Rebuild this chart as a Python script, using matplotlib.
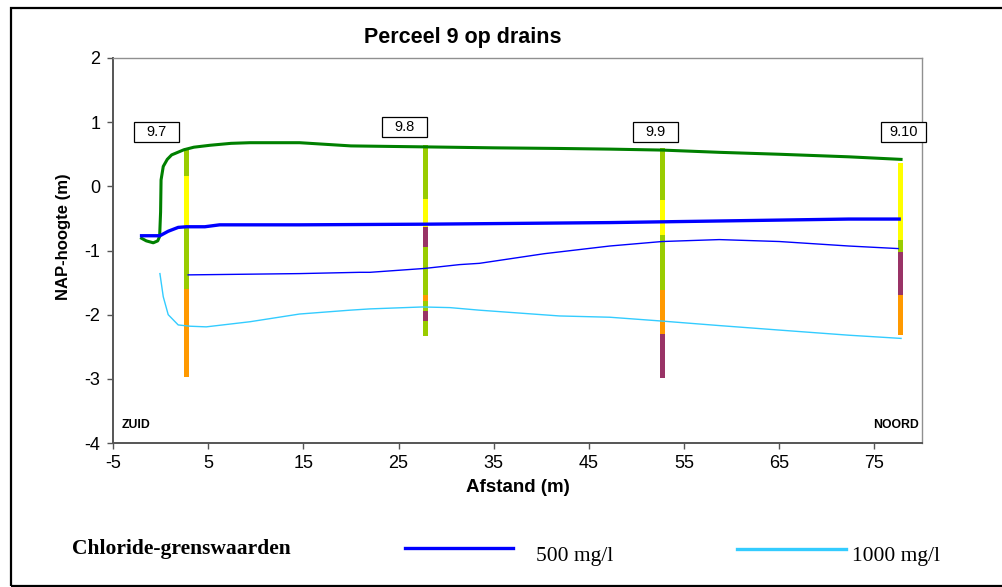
import matplotlib.pyplot as plt
from matplotlib.patches import Rectangle
from matplotlib.lines import Line2D

plt.rcParams['axes.unicode_minus'] = False

# lines (Afstand in m, NAP-hoogte in m)
grond_x = [-2.0, -1.5, -0.77, -0.3, -0.1, 0.0, 0.05, 0.28, 0.7, 1.16, 2.45, 3.5, 5.2, 7.4, 9.4,
           14.6, 20.0, 27.7, 35.0, 42.0, 47.2, 52.7, 58.7, 65.0, 72.3, 77.8]
grond_y = [-0.81, -0.85, -0.88, -0.85, -0.78, -0.40, 0.10, 0.31, 0.42, 0.49, 0.57, 0.61, 0.64, 0.67, 0.68,
           0.68, 0.63, 0.615, 0.60, 0.59, 0.58, 0.565, 0.53, 0.50, 0.46, 0.42]

zoet_x = [-2.0, -0.07, 0.8, 1.85, 2.7, 4.65, 6.2, 14.6, 27.7, 47.2, 58.7, 72.3, 77.6]
zoet_y = [-0.77, -0.77, -0.70, -0.64, -0.63, -0.63, -0.60, -0.60, -0.59, -0.565, -0.54, -0.51, -0.51]

cl500_x = [2.9, 14.6, 20.9, 22.0, 27.7, 31.4, 33.5, 40.3, 47.2, 52.7, 58.7, 65.0, 72.3, 77.5]
cl500_y = [-1.38, -1.36, -1.34, -1.34, -1.28, -1.22, -1.20, -1.05, -0.93, -0.86, -0.83, -0.86, -0.93, -0.97]

cl1000_x = [-0.07, 0.28, 0.8, 1.85, 3.1, 4.8, 9.4, 14.6, 19.9, 22.0, 27.5, 30.4, 33.5, 41.9, 47.2,
            52.7, 58.7, 65.0, 72.3, 77.8]
cl1000_y = [-1.36, -1.72, -2.00, -2.16, -2.18, -2.19, -2.11, -1.99, -1.93, -1.91, -1.88, -1.89, -1.93, -2.02, -2.04,
            -2.10, -2.17, -2.24, -2.32, -2.37]

# borings
boring_names = ['9.7', '9.8', '9.9', '9.10']
boring_x = [2.7, 27.8, 52.75, 77.75]
label_x = [-0.44, 25.66, 51.98, 78.03]
label_y = [0.84, 0.92, 0.84, 0.84]
# layer boundaries (top -> bottom) and layer type per interval
boring_depths = [
    [0.59, 0.16, -0.63, -1.60, -2.97],
    [0.64, -0.20, -0.64, -0.94, -1.70, -1.79, -1.95, -2.10, -2.33],
    [0.59, -0.21, -0.76, -1.61, -2.30, -2.99],
    [0.36, -0.83, -1.03, -1.69, -2.31],
]
boring_layers = [
    ['g', 'y', 'g', 'o'],
    ['g', 'y', 'p', 'g', 'o', 'g', 'p', 'g'],
    ['g', 'y', 'g', 'o', 'p'],
    ['y', 'g', 'p', 'o'],
]
layer_colors = {'g': '#99CC00', 'y': '#FFFF00', 'o': '#FF9900', 'p': '#993366'}

fig = plt.figure(figsize=(10.03, 5.87), dpi=100)
ax = fig.add_axes([113 / 1003, 1 - 443 / 587, (922 - 113) / 1003, (443 - 58) / 587])

for i in range(len(boring_names)):
    d = boring_depths[i]
    for j, lay in enumerate(boring_layers[i]):
        ax.bar(boring_x[i], d[j] - d[j + 1], bottom=d[j + 1], width=0.52,
               color=layer_colors[lay], linewidth=0, zorder=2)

ax.plot(grond_x, grond_y, color='#008000', lw=2.2, zorder=3)
ax.plot(zoet_x, zoet_y, color='#0000FF', lw=2.4, zorder=3)
ax.plot(cl500_x, cl500_y, color='#0000FF', lw=1.0, zorder=3)
ax.plot(cl1000_x, cl1000_y, color='#33CCFF', lw=1.0, zorder=3)

bw, bh = 45 / 9.53, 20 / 64.2
for name, lx, ly in zip(boring_names, label_x, label_y):
    ax.add_patch(Rectangle((lx - bw / 2, ly - bh / 2), bw, bh, facecolor='white',
                           edgecolor='black', lw=0.9, clip_on=False, zorder=4))
    ax.text(lx, ly, name, ha='center', va='center', fontsize=10.5,
            family='Liberation Sans', zorder=5, clip_on=False)

ax.text(-4.1, -3.72, 'ZUID', fontsize=8.8, fontweight='bold', family='Liberation Sans', va='center')
ax.text(79.7, -3.72, 'NOORD', fontsize=8.8, fontweight='bold', family='Liberation Sans',
        va='center', ha='right')

ax.set_xlim(-5, 80)
ax.set_ylim(-4, 2)
ax.set_xticks(range(-5, 80, 10))
ax.set_yticks(range(-4, 3))
for lab in ax.get_xticklabels() + ax.get_yticklabels():
    lab.set_family('Liberation Sans')
    lab.set_fontsize(13)
ax.tick_params(axis='both', direction='out', length=4, width=1, color='#555555', pad=5)
for s in ['left', 'bottom']:
    ax.spines[s].set_color('#555555')
    ax.spines[s].set_linewidth(1.4)
for s in ['top', 'right']:
    ax.spines[s].set_color('#909090')
    ax.spines[s].set_linewidth(1.0)

ax.set_xlabel('Afstand (m)', fontsize=13.5, fontweight='bold', family='Liberation Sans', labelpad=5)
ax.set_ylabel('NAP-hoogte (m)', fontsize=12, fontweight='bold', family='Liberation Sans')
ax.yaxis.set_label_coords(-0.052, 0.535)
fig.text(463 / 1003, 1 - 37 / 587, 'Perceel 9 op drains', fontsize=15.5, fontweight='bold',
         family='Liberation Sans', ha='center', va='center')

# legend at bottom
fig.text(72 / 1003, 1 - 549 / 587, 'Chloride-grenswaarden', fontsize=15.5, fontweight='bold',
         family='Liberation Serif', va='center')
fig.add_artist(Line2D([405 / 1003, 513 / 1003], [1 - 548 / 587] * 2, color='#0000FF', lw=2.4))
fig.text(536 / 1003, 1 - 556 / 587, '500 mg/l', fontsize=15.5, family='Liberation Serif', va='center')
fig.add_artist(Line2D([737 / 1003, 846 / 1003], [1 - 549 / 587] * 2, color='#33CCFF', lw=2.4))
fig.text(852 / 1003, 1 - 556 / 587, '1000 mg/l', fontsize=15.5, family='Liberation Serif', va='center')

# outer frame
fig.add_artist(Rectangle((11 / 1003, 1 / 587), 1.0, 1 - 9 / 587, transform=fig.transFigure,
                         fill=False, edgecolor='black', lw=1.6, clip_on=False))

fig.savefig('out.png', dpi=100)
